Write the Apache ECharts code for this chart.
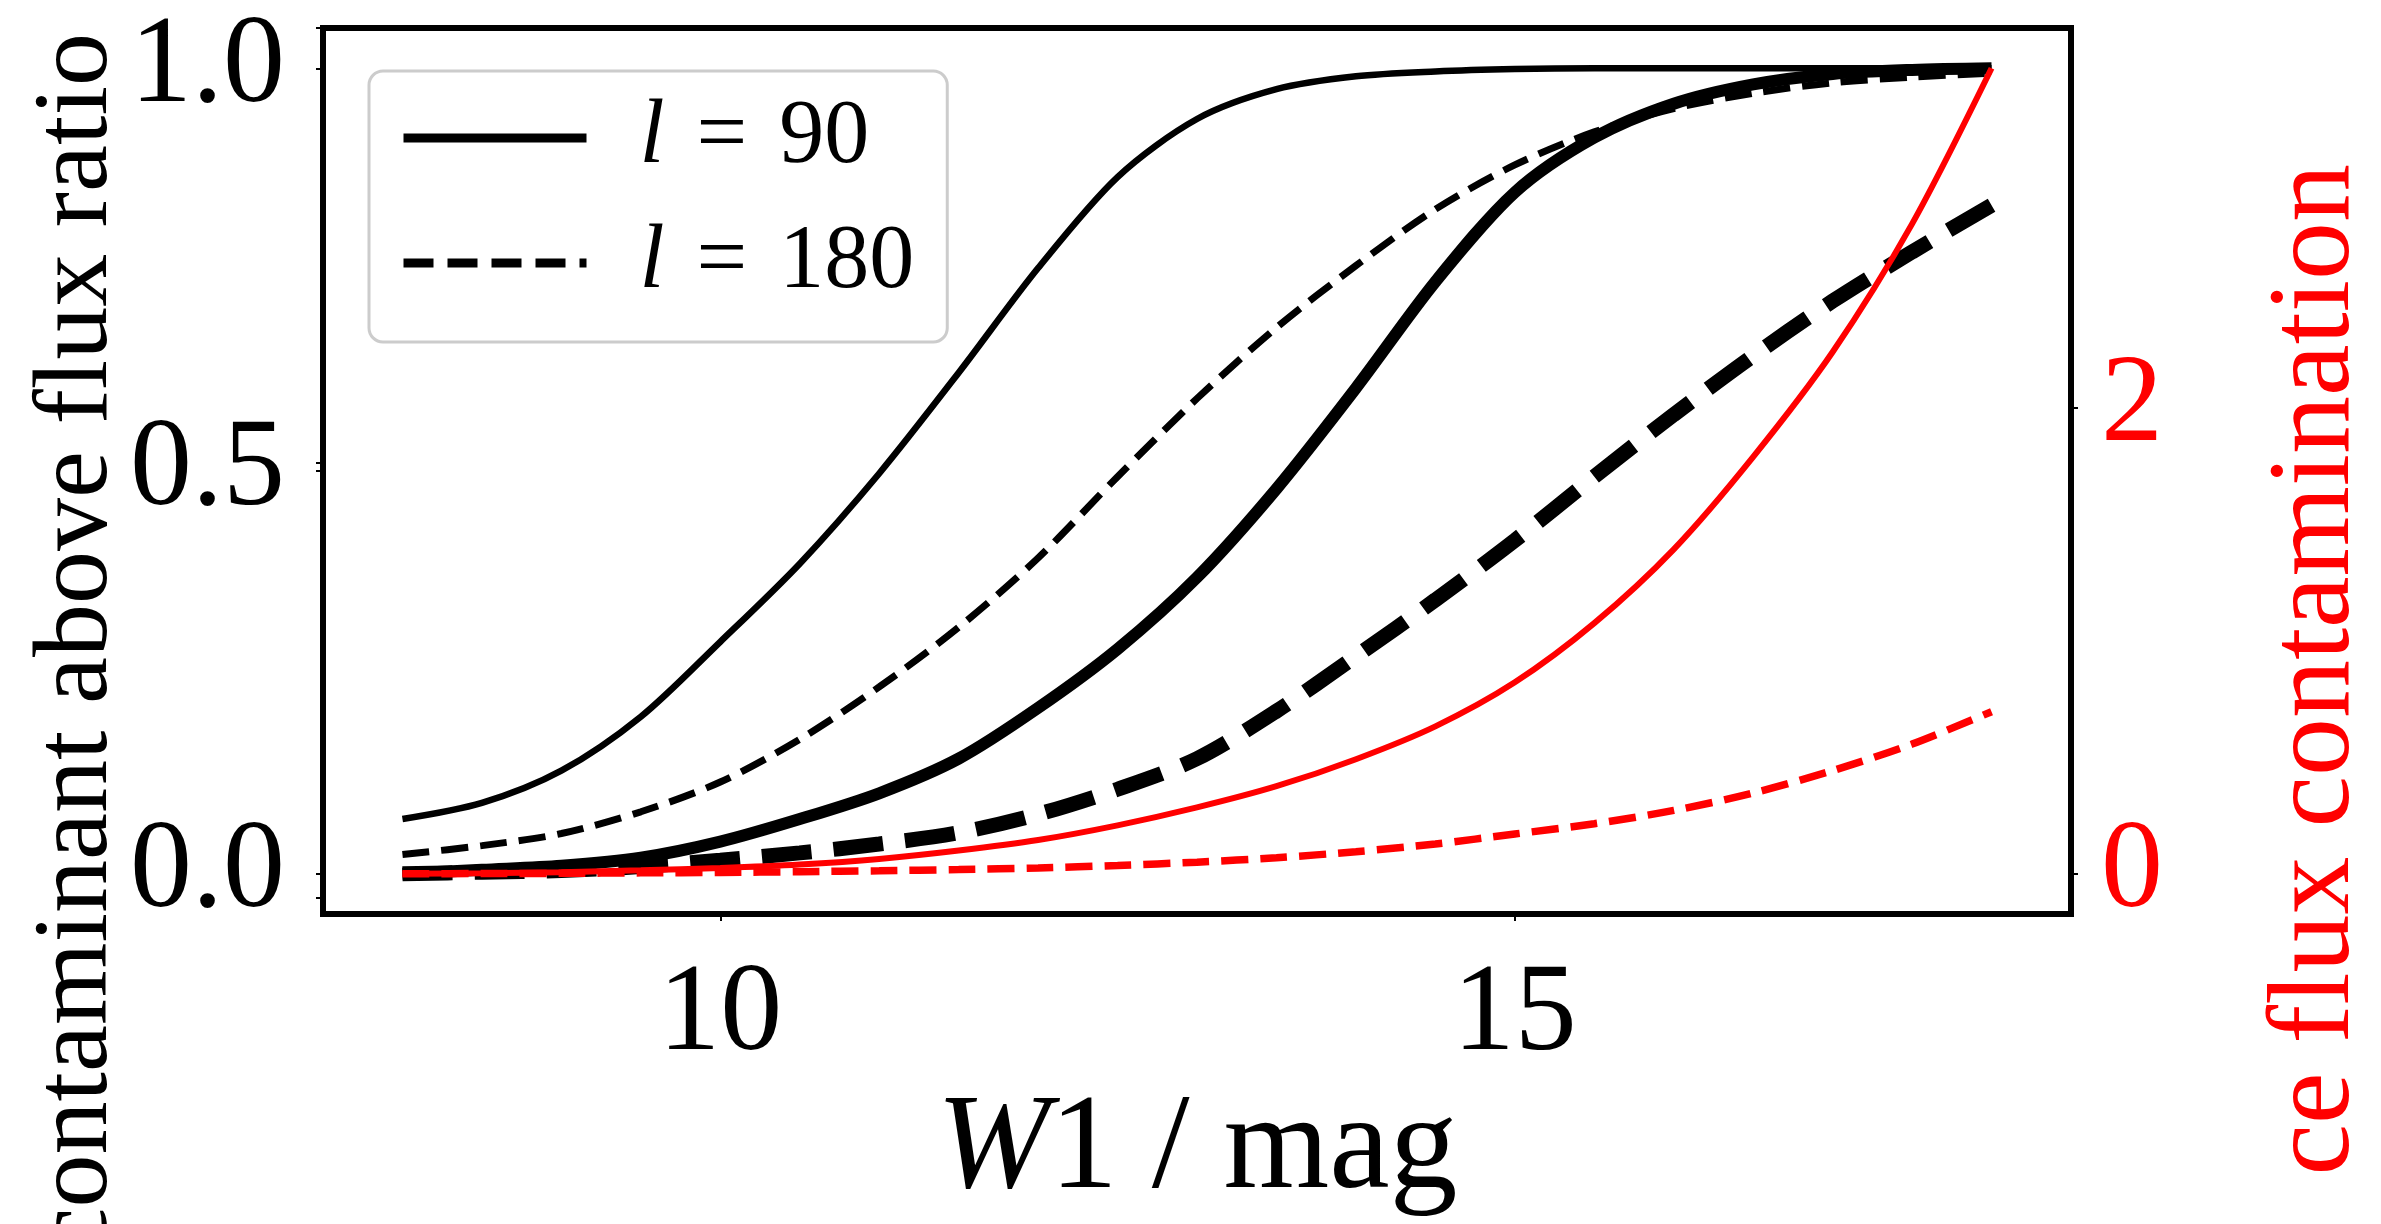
<!DOCTYPE html>
<html>
<head>
<meta charset="utf-8">
<script src="https://cdn.jsdelivr.net/npm/echarts@6.0.0/dist/echarts.min.js"></script>
<style>
  html, body { margin: 0; padding: 0; background: #fff; }
  #chart { width: 2381px; height: 1224px; }
</style>
</head>
<body>
<div id="chart"></div>
<script>
// W1 magnitude grid
const XS = [8, 8.5, 9, 9.5, 10, 10.5, 11, 11.5, 12, 12.5, 13, 13.5, 14, 14.5, 15, 15.5, 16, 16.5, 17, 17.5, 18];

// fraction of contaminant above flux ratio (left axis)
const L90_THIN   = [0.068, 0.088, 0.128, 0.195, 0.288, 0.385, 0.497, 0.622, 0.752, 0.865, 0.937, 0.974, 0.99, 0.996, 0.999, 1.0, 1.0, 1.0, 1.0, 1.0, 1.0];
const L180_THIN  = [0.024, 0.035, 0.05, 0.077, 0.114, 0.167, 0.232, 0.306, 0.392, 0.493, 0.59, 0.678, 0.755, 0.825, 0.88, 0.921, 0.95, 0.969, 0.982, 0.989, 0.994];
const L90_THICK  = [0.0, 0.005, 0.01, 0.02, 0.04, 0.068, 0.1, 0.143, 0.206, 0.279, 0.368, 0.478, 0.603, 0.735, 0.846, 0.914, 0.956, 0.98, 0.993, 0.998, 1.0];
const L180_THICK = [0.0, 0.002, 0.004, 0.009, 0.017, 0.026, 0.037, 0.051, 0.074, 0.105, 0.143, 0.202, 0.27, 0.34, 0.414, 0.493, 0.57, 0.643, 0.711, 0.772, 0.83];

// source flux contamination (right axis, red)
const RED_L90  = [0.0, 0.002, 0.007, 0.015, 0.025, 0.04, 0.064, 0.1, 0.145, 0.208, 0.285, 0.376, 0.492, 0.633, 0.822, 1.076, 1.393, 1.79, 2.24, 2.79, 3.458];
const RED_L180 = [0.0, 0.001, 0.002, 0.004, 0.006, 0.009, 0.013, 0.018, 0.025, 0.036, 0.05, 0.069, 0.095, 0.128, 0.171, 0.215, 0.272, 0.347, 0.443, 0.557, 0.696];

const X_TICKS = [10, 15];
const LEFT_TICKS = [0, 0.5, 1.0];
const RIGHT_TICKS = [0, 2];
const LEGEND_NAMES = ['l = 90', 'l = 180'];

const FONT = '"Liberation Serif", "DejaVu Serif", serif';
const RED = '#ff0000';

function pairs(ys) {
  return XS.map((x, i) => [x, ys[i]]);
}

function curve(name, ys, color, width, dash, yAxisIndex) {
  return {
    name: name,
    type: 'line',
    yAxisIndex: yAxisIndex,
    data: pairs(ys),
    symbol: 'none',
    smooth: 0.3,
    silent: true,
    lineStyle: { color: color, width: width, type: dash || 'solid', cap: 'butt' }
  };
}

const chart = echarts.init(document.getElementById('chart'), null, { renderer: 'canvas' });

const option = {
  animation: false,
  backgroundColor: '#fff',
  grid: {
    left: 323, right: 310, top: 28, bottom: 285,
    show: true, borderColor: '#000', borderWidth: 6, backgroundColor: 'transparent'
  },
  legend: {
    data: LEGEND_NAMES,
    orient: 'vertical',
    left: 369, top: 71,
    padding: [17, 33, 29, 30],
    itemWidth: 183, itemHeight: 20, itemGap: 25,
    backgroundColor: 'rgba(255,255,255,0.8)',
    borderColor: '#cccccc', borderWidth: 3, borderRadius: 14,
    lineStyle: { width: 9 },
    itemStyle: { color: 'rgba(0,0,0,0)', borderWidth: 0, opacity: 0 },
    formatter: function (name) {
      return '{i|l}{e|=}{n|' + name.split('= ')[1] + '}';
    },
    textStyle: {
      fontFamily: FONT, fontSize: 90, color: '#000', lineHeight: 100,
      padding: [0, 0, 0, 48],
      rich: {
        i: { fontFamily: FONT, fontSize: 90, fontStyle: 'italic', lineHeight: 100 },
        e: { fontFamily: FONT, fontSize: 90, lineHeight: 100, padding: [0, 32, 0, 32] },
        n: { fontFamily: FONT, fontSize: 90, lineHeight: 100 }
      }
    }
  },
  xAxis: {
    type: 'value', min: 7.5, max: 18.5,
    axisLine: { show: false, onZero: false },
    splitLine: { show: false },
    axisTick: { show: true, length: 7, customValues: X_TICKS, lineStyle: { color: '#000', width: 2 } },
    axisLabel: { customValues: X_TICKS, fontFamily: FONT, fontSize: 124, color: '#000', margin: 40 },
    name: '{w|W}1 / mag',
    nameLocation: 'middle', nameGap: 138,
    nameTextStyle: {
      fontFamily: FONT, fontSize: 136, color: '#000',
      rich: { w: { fontFamily: FONT, fontSize: 136, fontStyle: 'italic', color: '#000' } }
    }
  },
  yAxis: [
    {
      type: 'value', position: 'left', min: -0.05, max: 1.05,
      axisLine: { show: false, onZero: false },
      splitLine: { show: false },
      axisTick: { show: true, length: 7, customValues: LEFT_TICKS, lineStyle: { color: '#000', width: 2 } },
      axisLabel: {
        customValues: LEFT_TICKS, fontFamily: FONT, fontSize: 124, color: '#000', margin: 38,
        formatter: v => v.toFixed(1)
      }
    },
    {
      type: 'value', position: 'right', min: -0.173, max: 3.631,
      axisLine: { show: false, onZero: false },
      splitLine: { show: false },
      axisTick: { show: true, length: 7, customValues: RIGHT_TICKS, lineStyle: { color: '#000', width: 2 } },
      axisLabel: { customValues: RIGHT_TICKS, fontFamily: FONT, fontSize: 124, color: RED, margin: 30 }
    },
    {
      // second set of left ticks seen on the spine
      type: 'value', position: 'left', min: -0.019, max: 1.0,
      axisLine: { show: false, onZero: false },
      splitLine: { show: false },
      axisTick: { show: true, length: 7, customValues: LEFT_TICKS, lineStyle: { color: '#000', width: 2 } },
      axisLabel: { show: false }
    }
  ],
  graphic: [
    {
      type: 'text', x: 78, y: 33, rotation: Math.PI / 2, silent: true,
      style: {
        text: 'contaminant above flux ratio', fill: '#000',
        font: '106px ' + FONT, textAlign: 'right', textVerticalAlign: 'middle'
      }
    },
    {
      type: 'text', x: 2318, y: 164, rotation: Math.PI / 2, silent: true,
      style: {
        text: 'ce flux contamination', fill: RED,
        font: '116px ' + FONT, textAlign: 'right', textVerticalAlign: 'middle'
      }
    }
  ],
  series: [
    curve('l90 thin', L90_THIN, '#000', 6.5, null, 0),
    curve('l180 thin', L180_THIN, '#000', 7, [27, 12], 0),
    curve('l90 thick', L90_THICK, '#000', 12, null, 0),
    curve('l180 thick', L180_THICK, '#000', 15, [50, 22], 0),
    curve('red l90', RED_L90, RED, 6, null, 1),
    curve('red l180', RED_L180, RED, 7.5, [27, 12], 1),
    // legend proxies
    { name: LEGEND_NAMES[0], type: 'line', data: [], symbol: 'none', lineStyle: { color: '#000', width: 9, type: 'solid' } },
    { name: LEGEND_NAMES[1], type: 'line', data: [], symbol: 'none', lineStyle: { color: '#000', width: 9, type: [30, 14] } }
  ]
};

chart.setOption(option);
</script>
</body>
</html>
